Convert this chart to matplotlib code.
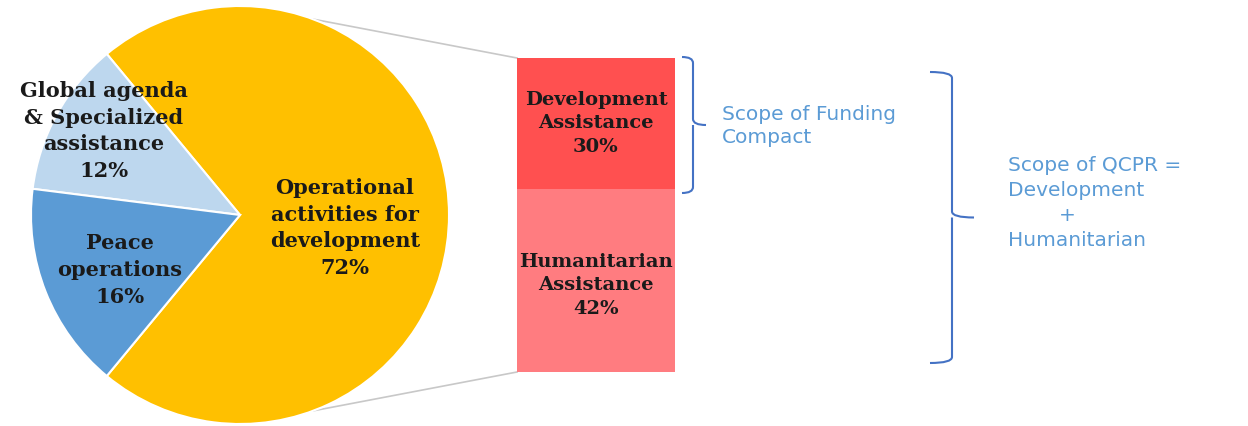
import numpy as np
import matplotlib
matplotlib.use("Agg")
import matplotlib.pyplot as plt
from matplotlib.path import Path
from matplotlib.patches import PathPatch

# ---- data ----
pie_labels = ["Operational\nactivities for\ndevelopment\n72%",
              "Global agenda\n& Specialized\nassistance\n12%",
              "Peace\noperations\n16%"]
pie_values = [72, 12, 16]
pie_colors = ["#FFC000", "#BDD7EE", "#5B9BD5"]

bar_labels = ["Development\nAssistance\n30%", "Humanitarian\nAssistance\n42%"]
bar_values = [30, 42]
bar_colors = ["#FF5050", "#FF7C80"]

brace_texts = ["Scope of Funding\nCompact",
               "Scope of QCPR =\nDevelopment\n        +\nHumanitarian"]

W, H = 1248, 426
fig = plt.figure(figsize=(W / 100, H / 100), dpi=100)
ax = fig.add_axes([0, 0, 1, 1])

def Y(y):
    return H - y

serif = ["DejaVu Serif"]
txtcol = "#1a1a1a"

# ---- pie ----
cx, cy, R = 240, Y(215), 209
start = -pie_values[0] / 100 * 180
wedges, _ = ax.pie(pie_values, colors=pie_colors, startangle=start,
                   counterclock=True, center=(cx, cy), radius=R,
                   wedgeprops=dict(edgecolor="white", linewidth=1.5))
ax.set_xlim(0, W)
ax.set_ylim(0, H)
ax.set_aspect("equal")
ax.axis("off")

label_pos = [(345, 228), (104, 131), (120, 270)]
for lab, (x, y) in zip(pie_labels, label_pos):
    ax.text(x, Y(y), lab, ha="center", va="center", fontsize=15,
            fontweight="bold", family=serif, color=txtcol, linespacing=1.42)

# ---- bar ----
bx, bw = 596, 158
ybot, ytop = Y(372), Y(58)
scale = (ytop - ybot) / sum(bar_values)
hum_h = bar_values[1] * scale
dev_h = bar_values[0] * scale
ax.bar(bx, hum_h, bottom=ybot, width=bw, color=bar_colors[1], linewidth=0)
ax.bar(bx, dev_h, bottom=ybot + hum_h, width=bw, color=bar_colors[0], linewidth=0)
ax.text(bx, ybot + hum_h + dev_h / 2, bar_labels[0], ha="center", va="center",
        fontsize=14, fontweight="bold", family=serif, color=txtcol, linespacing=1.42)
ax.text(bx, ybot + hum_h / 2 - 5, bar_labels[1], ha="center", va="center",
        fontsize=14, fontweight="bold", family=serif, color=txtcol, linespacing=1.42)

# ---- connector lines ----
ang = np.deg2rad(69.6)
for sgn, yb in [(1, ytop), (-1, ybot)]:
    px, py = cx + R * np.cos(ang), cy + sgn * R * np.sin(ang)
    ax.plot([px, bx - bw / 2], [py, yb], color="#C8C8C8", lw=1.2, zorder=0)

# ---- braces ----
def brace(x0, x1, x2, y_top, y_bot, color="#4472C4", lw=1.5):
    ym = (y_top + y_bot) / 2
    r = 6
    verts = [(x0, y_top), (x1, y_top), (x1, y_top - r),
             (x1, ym + r),
             (x1, ym), (x2, ym),
             (x1, ym), (x1, ym - r),
             (x1, y_bot + r),
             (x1, y_bot), (x0, y_bot)]
    codes = [Path.MOVETO, Path.CURVE3, Path.CURVE3,
             Path.LINETO,
             Path.CURVE3, Path.CURVE3,
             Path.MOVETO, Path.CURVE3, Path.CURVE3,
             Path.LINETO,
             Path.CURVE3, Path.CURVE3]
    verts = [(x0, y_top), (x1, y_top), (x1, y_top - r),
             (x1, ym + r),
             (x1, ym), (x2, ym),
             (x1, ym), (x1, ym - r),
             (x1, y_bot + r),
             (x1, y_bot), (x0, y_bot)]
    codes = [Path.MOVETO, Path.CURVE3, Path.CURVE3,
             Path.LINETO,
             Path.CURVE3, Path.CURVE3,
             Path.MOVETO, Path.LINETO,
             Path.LINETO,
             Path.CURVE3, Path.CURVE3]
    ax.add_patch(PathPatch(Path(verts, codes), fill=False, edgecolor=color, lw=lw))

brace(682, 693, 706, Y(57), Y(193))
brace(930, 952, 974, Y(72), Y(363))

tcol = "#5B9BD5"
ax.text(722, Y(126), brace_texts[0], ha="left", va="center", fontsize=14.5,
        family=["DejaVu Sans"], color=tcol, linespacing=1.3)
ax.text(1008, Y(203), brace_texts[1], ha="left", va="center", fontsize=14.5,
        family=["DejaVu Sans"], color=tcol, linespacing=1.38)

fig.savefig("out.png", dpi=100, facecolor="white")
